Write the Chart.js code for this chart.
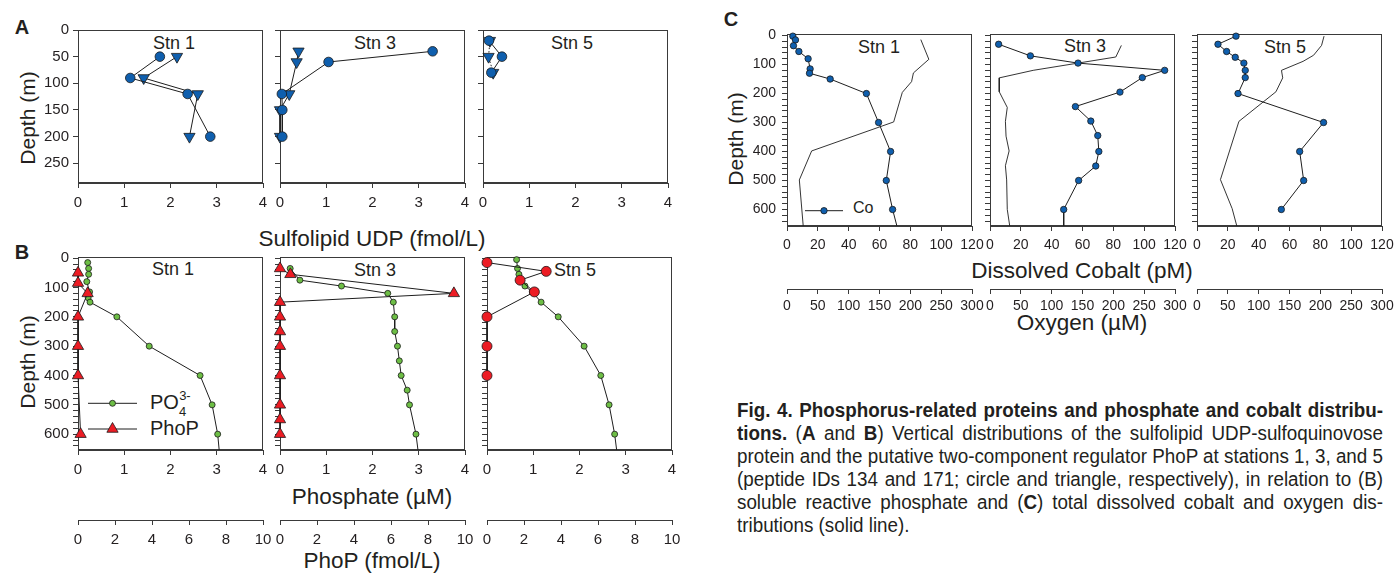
<!DOCTYPE html>
<html>
<head>
<meta charset="utf-8">
<script src="https://cdn.jsdelivr.net/npm/chart.js@4.4.1/dist/chart.umd.min.js"></script>
<style>
  body { margin: 0; background: #fff; width: 1396px; height: 573px; overflow: hidden; position: relative;
         font-family: "Liberation Sans", Arial, Helvetica, sans-serif; color: #231f20; }
  .t { position: absolute; white-space: nowrap; line-height: 1; transform: translate(-50%, -50%); }
  .tl { position: absolute; white-space: nowrap; line-height: 1; transform: translate(0, -50%); }
  .rot { transform: translate(-50%, -50%) rotate(-90deg); }
  .letter { font-weight: bold; font-size: 20px; }
  .stn { font-size: 18px; }
  .ttl { font-size: 22.5px; }
  .cap { position: absolute; left: 737px; top: 399px; width: 646px; font-size: 19.5px; line-height: 23px;
         font-family: "Liberation Sans", Arial, sans-serif; }
  .ln { white-space: nowrap; height: 23px; }
  .ln span.in { display: inline-block; transform-origin: 0 50%; }
</style>
</head>
<body>

<!-- panel letters -->
<div class="t letter" style="left:22px;top:27px">A</div>
<div class="t letter" style="left:22px;top:252px">B</div>
<div class="t letter" style="left:731px;top:19px">C</div>

<!-- depth axis titles -->
<div class="t rot ttl" style="left:27px;top:118px;font-size:21px">Depth (m)</div>
<div class="t rot ttl" style="left:27px;top:362px;font-size:21px">Depth (m)</div>
<div class="t rot ttl" style="left:735px;top:139px;font-size:21px">Depth (m)</div>

<!-- station labels -->
<div class="t stn" style="left:174px;top:43px">Stn 1</div>
<div class="t stn" style="left:375px;top:43px">Stn 3</div>
<div class="t stn" style="left:572px;top:43px">Stn 5</div>
<div class="t stn" style="left:173px;top:269px">Stn 1</div>
<div class="t stn" style="left:375px;top:270px">Stn 3</div>
<div class="t stn" style="left:575px;top:270px">Stn 5</div>
<div class="t stn" style="left:879px;top:47px">Stn 1</div>
<div class="t stn" style="left:1085px;top:46px">Stn 3</div>
<div class="t stn" style="left:1285px;top:47px">Stn 5</div>

<!-- shared x axis titles -->
<div class="t ttl" style="left:372px;top:239px">Sulfolipid UDP (fmol/L)</div>
<div class="t ttl" style="left:372px;top:497px">Phosphate (µM)</div>
<div class="t ttl" style="left:372px;top:561px">PhoP (fmol/L)</div>
<div class="t ttl" style="left:1082px;top:271px">Dissolved Cobalt (pM)</div>
<div class="t ttl" style="left:1082px;top:323px">Oxygen (µM)</div>

<!-- key texts -->
<div class="tl" style="left:150px;top:402px;font-size:20px">PO<span style="position:relative;font-size:13px;top:7px">4</span><span style="position:relative;font-size:13px;top:-9px;left:-7px">3-</span></div>
<div class="tl" style="left:150px;top:428px;font-size:20px">PhoP</div>
<div class="tl" style="left:853px;top:208px;font-size:16px">Co</div>

<!-- caption -->
<div class="cap">
  <div class="ln j"><span class="in"><b>Fig. 4. Phosphorus-related proteins and phosphate and cobalt distribu-</b></span></div>
  <div class="ln j"><span class="in"><b>tions.</b> (<b>A</b> and <b>B</b>) Vertical distributions of the sulfolipid UDP-sulfoquinovose</span></div>
  <div class="ln j"><span class="in">protein and the putative two-component regulator PhoP at stations 1, 3, and 5</span></div>
  <div class="ln j"><span class="in">(peptide IDs 134 and 171; circle and triangle, respectively), in relation to (B)</span></div>
  <div class="ln j"><span class="in">soluble reactive phosphate and (<b>C</b>) total dissolved cobalt and oxygen dis-</span></div>
  <div class="ln"><span class="in">tributions (solid line).</span></div>
</div>

<script>
// ---- Panel A: sulfolipid UDP-sulfoquinovose peptides (fmol/L) ----
const depthA1 = [50, 90, 120, 200];
const pep134A1 = [1.77, 1.13, 2.37, 2.86];
const pep171A1 = [2.14, 1.42, 2.59, 2.41];
const depthA3 = [40, 60, 120, 150, 200];
const pep134A3 = [3.3, 1.05, 0.04, 0.05, 0.05];
const pep171A3 = [0.4, 0.36, 0.2, 0.0, 0.0];
const depthA5 = [20, 50, 80];
const pep134A5 = [0.13, 0.41, 0.18];
const pep171A5 = [0.15, 0.12, 0.22];

// ---- Panel B: phosphate (uM) and PhoP (fmol/L) ----
const poDepthB1 = [15, 35, 55, 80, 115, 135, 150, 200, 300, 400, 500, 600, 700];
const po4B1 = [0.21, 0.23, 0.23, 0.19, 0.25, 0.22, 0.26, 0.84, 1.54, 2.64, 2.9, 3.02, 3.08];
const phopDepthB1 = [50, 85, 120, 200, 300, 400, 600];
const phopB1 = [0, 0, 0.52, 0, 0, 0, 0.14];

const poDepthB3 = [35, 75, 95, 120, 150, 200, 250, 300, 350, 400, 450, 500, 600, 700];
const po4B3 = [0.22, 0.43, 1.33, 2.33, 2.45, 2.48, 2.48, 2.54, 2.58, 2.62, 2.75, 2.8, 2.94, 3.02];
const phopDepthB3 = [35, 55, 120, 150, 200, 250, 300, 400, 500, 550, 600];
const phopB3 = [0, 0.56, 9.4, 0, 0, 0, 0, 0, 0, 0, 0];

const poDepthB5 = [5, 35, 55, 75, 95, 115, 150, 200, 300, 400, 500, 600, 700];
const po4B5 = [0.64, 0.66, 0.69, 0.72, 0.82, 0.98, 1.17, 1.54, 2.1, 2.46, 2.64, 2.76, 2.84];
const phopDepthB5 = [15, 45, 75, 115, 200, 300, 400];
const phopB5 = [0, 3.2, 1.79, 2.56, 0, 0, 0];

// ---- Panel C: dissolved cobalt (pM) and oxygen (uM) ----
const coDepthC1 = [2, 15, 35, 55, 80, 115, 130, 150, 200, 300, 400, 500, 600, 700];
const coC1 = [3.8, 5.5, 4.2, 7.7, 13.7, 15, 14.6, 28, 51.5, 59.4, 67.2, 64.4, 68.5, 73.4];
const o2DepthC1 = [14, 82, 129, 159, 196, 298, 398, 498, 700];
const o2C1 = [217, 230, 205, 202, 187, 173, 40, 20, 28];

const coDepthC3 = [30, 70, 95, 120, 145, 195, 245, 295, 345, 400, 450, 500, 600, 700];
const coC3 = [5.6, 26.2, 57.1, 113.3, 98.8, 84.3, 55.4, 65.4, 69.9, 70.6, 68.6, 57.5, 47.8, 47.8];
const o2DepthC3 = [34, 74, 120, 146, 194, 248, 296, 347, 398, 449, 498, 600, 700];
const o2C3 = [213, 204, 70, 15, 15, 28, 25, 26, 31, 25, 27, 28, 35];

const coDepthC5 = [2, 30, 55, 75, 95, 120, 145, 200, 300, 400, 500, 600];
const coC5 = [25.3, 13.6, 19.2, 24.8, 30.4, 31.3, 31.3, 26.6, 82.1, 66.6, 69.2, 54.7];
const o2DepthC5 = [2, 34, 68, 89, 120, 146, 194, 296, 497, 597, 700];
const o2C5 = [206, 202, 189, 172, 137, 139, 128, 68, 38, 57, 70];

// ---- look ----
const FONT = '"Liberation Sans", Arial, Helvetica, sans-serif';
const INK = '#231f20';
const AXIS = '#3a3a3a';
const LINE = '#1e1e1e';
const BLUE = '#0f5fae';
const GREEN = '#6dbe45';
const RED = '#ec1c24';
const PAD_L = 64, PAD_T = 12, PAD_R = 24;

// box around every plot area (drawn under the markers)
const framePlugin = {
  id: 'frame',
  beforeDatasetsDraw(chart) {
    const {ctx, chartArea: a} = chart;
    ctx.save();
    ctx.strokeStyle = AXIS;
    ctx.lineWidth = 1;
    ctx.strokeRect(Math.round(a.left) + 0.5, Math.round(a.top) + 0.5, Math.round(a.width) - 1, Math.round(a.height) - 1);
    ctx.restore();
  }
};

// line + marker samples for the in-plot keys
const keyPlugin = {
  id: 'key',
  afterDatasetsDraw(chart, args, opts) {
    if (!opts || !opts.rows) return;
    const {ctx, chartArea: a} = chart;
    opts.rows.forEach(r => {
      const cx = a.left + r.dx, cy = a.top + r.dy;
      ctx.save();
      ctx.strokeStyle = LINE;
      ctx.lineWidth = 1;
      ctx.beginPath();
      ctx.moveTo(cx - r.half, cy);
      ctx.lineTo(cx + r.half, cy);
      ctx.stroke();
      ctx.fillStyle = r.color;
      ctx.strokeStyle = '#1a1a1a';
      ctx.lineWidth = 0.8;
      Chart.helpers.drawPoint(ctx, {pointStyle: r.style, radius: r.radius, rotation: 0, borderWidth: 0.8}, cx, cy);
      ctx.restore();
    });
  }
};

function series(xs, depths, extra) {
  return Object.assign({
    data: xs.map((v, i) => ({x: v, y: depths[i]})),
    showLine: true,
    borderColor: LINE,
    borderWidth: 1,
    pointRadius: 0,
    pointBorderColor: '#1a1a1a',
    pointBorderWidth: 0.8,
    clip: {left: 12, top: 12, right: 12, bottom: 0}
  }, extra);
}

function panel(geo, left, datasets, o) {
  const W = PAD_L + geo.w + PAD_R;
  const H = PAD_T + geo.h + geo.xh + (geo.x2h || 0);
  const canvas = document.createElement('canvas');
  canvas.width = W;
  canvas.height = H;
  canvas.style.cssText = `position:absolute;left:${left - PAD_L}px;top:${geo.top - PAD_T}px;width:${W}px;height:${H}px`;
  document.body.appendChild(canvas);

  const font = {family: FONT, size: o.fs};
  const grid = {drawOnChartArea: false, tickLength: 5, color: AXIS, lineWidth: 1};
  const scales = {
    x: {
      type: 'linear', position: 'bottom', min: o.x[0], max: o.x[1],
      afterFit: s => { s.height = geo.xh; },
      ticks: {stepSize: o.x[2], autoSkip: false, maxRotation: 0, minRotation: 0, includeBounds: false,
              font, color: INK, padding: o.xpad},
      grid, border: {color: AXIS}
    },
    y: {
      type: 'linear', reverse: true, min: o.y[0], max: o.y[1],
      afterFit: s => { s.width = PAD_L; },
      ticks: {stepSize: o.y[2], autoSkip: false, includeBounds: false, font, color: INK, padding: o.ypad,
              callback: v => (o.yLabels && v % o.y[3] === 0) ? v : ''},
      grid, border: {color: AXIS}
    }
  };
  if (o.x2) {
    scales.x2 = {
      type: 'linear', position: 'bottom', weight: 1, min: o.x2[0], max: o.x2[1],
      afterFit: s => { s.height = geo.x2h; },
      ticks: {stepSize: o.x2[2], autoSkip: false, maxRotation: 0, minRotation: 0, includeBounds: false,
              font, color: INK, padding: o.x2pad},
      grid, border: {color: AXIS}
    };
  }
  return new Chart(canvas, {
    type: 'scatter',
    data: {datasets},
    options: {
      responsive: false,
      animation: false,
      events: [],
      layout: {padding: {left: 0, top: PAD_T, right: PAD_R, bottom: 0}},
      scales,
      plugins: {legend: {display: false}, tooltip: {enabled: false}, key: o.key || {}}
    },
    plugins: [framePlugin, keyPlugin]
  });
}

// ---- geometry of the three rows ----
const geoA = {top: 29, w: 185, h: 154, xh: 32};
const geoB = {top: 256, w: 185, h: 194, xh: 70, x2h: 34};
const geoC = {top: 32, w: 185, h: 194, xh: 63, x2h: 30};

const optA = {fs: 15, x: [0, 4, 1], y: [0, 287, 50, 50], xpad: 6, ypad: 4};
const optB = {fs: 15, x: [0, 4, 1], x2: [0, 10, 2], y: [-4, 654, 20, 100], xpad: 6, x2pad: 6, ypad: 4};
const optC = {fs: 14, x: [0, 120, 20], x2: [0, 300, 50], y: [-4, 657, 20, 100], xpad: 6, x2pad: 4, ypad: 6};

const circA = {pointRadius: 4.8, pointBackgroundColor: BLUE, pointStyle: 'circle'};
const triA = {pointRadius: 6.5, pointBackgroundColor: BLUE, pointStyle: 'triangle', pointRotation: 180};
const greenDot = {pointRadius: 3, pointBackgroundColor: GREEN};
const redTri = {pointRadius: 6.5, pointBackgroundColor: RED, pointStyle: 'triangle', xAxisID: 'x2'};
const redDot = {pointRadius: 5, pointBackgroundColor: RED, pointStyle: 'circle', xAxisID: 'x2'};
const coDot = {pointRadius: 3.2, pointBackgroundColor: BLUE};
const o2Line = {xAxisID: 'x2', pointRadius: 0, borderWidth: 0.9};

// A
panel(geoA, 78, [series(pep134A1, depthA1, circA), series(pep171A1, depthA1, triA)],
      Object.assign({yLabels: true}, optA));
panel(geoA, 280, [series(pep134A3, depthA3, circA), series(pep171A3, depthA3, triA)], optA);
panel(geoA, 483, [series(pep134A5, depthA5, circA),
                  series(pep171A5, depthA5, Object.assign({borderDash: [1.5, 2]}, triA))], optA);

// B
panel(geoB, 78, [series(phopB1, phopDepthB1, redTri), series(po4B1, poDepthB1, greenDot)],
      Object.assign({yLabels: true, key: {rows: [
        {dx: 34.5, dy: 146.3, half: 24.5, style: 'circle', radius: 3, color: GREEN},
        {dx: 34.5, dy: 172, half: 24.5, style: 'triangle', radius: 6.5, color: RED}
      ]}}, optB));
panel(geoB, 280, [series(phopB3, phopDepthB3, redTri), series(po4B3, poDepthB3, greenDot)], optB);
panel(geoB, 487, [series(phopB5, phopDepthB5, redDot), series(po4B5, poDepthB5, greenDot)], optB);

// C
panel(geoC, 787, [series(coC1, coDepthC1, coDot), series(o2C1, o2DepthC1, o2Line)],
      Object.assign({yLabels: true, key: {rows: [
        {dx: 37, dy: 176.3, half: 19, style: 'circle', radius: 3.2, color: BLUE}
      ]}}, optC));
panel(geoC, 990, [series(coC3, coDepthC3, coDot), series(o2C3, o2DepthC3, o2Line)], optC);
panel(geoC, 1197, [series(coC5, coDepthC5, coDot), series(o2C5, o2DepthC5, o2Line)], optC);

// ---- caption: one common horizontal squeeze, then justify each line ----
const CAP_W = 646;
const capSpans = [...document.querySelectorAll('.cap .ln .in')];
const capW = capSpans.map(s => s.getBoundingClientRect().width);
let squeeze = 1;
capSpans.forEach((s, i) => {
  if (s.parentNode.classList.contains('j')) squeeze = Math.min(squeeze, CAP_W / capW[i]);
});
capSpans.forEach((s, i) => {
  s.style.transform = `scaleX(${squeeze})`;
  if (!s.parentNode.classList.contains('j')) return;
  const gaps = (s.textContent.match(/ /g) || []).length;
  const extra = CAP_W / squeeze - capW[i];
  if (gaps && extra > 0) s.style.wordSpacing = (extra / gaps) + 'px';
});
</script>
</body>
</html>
